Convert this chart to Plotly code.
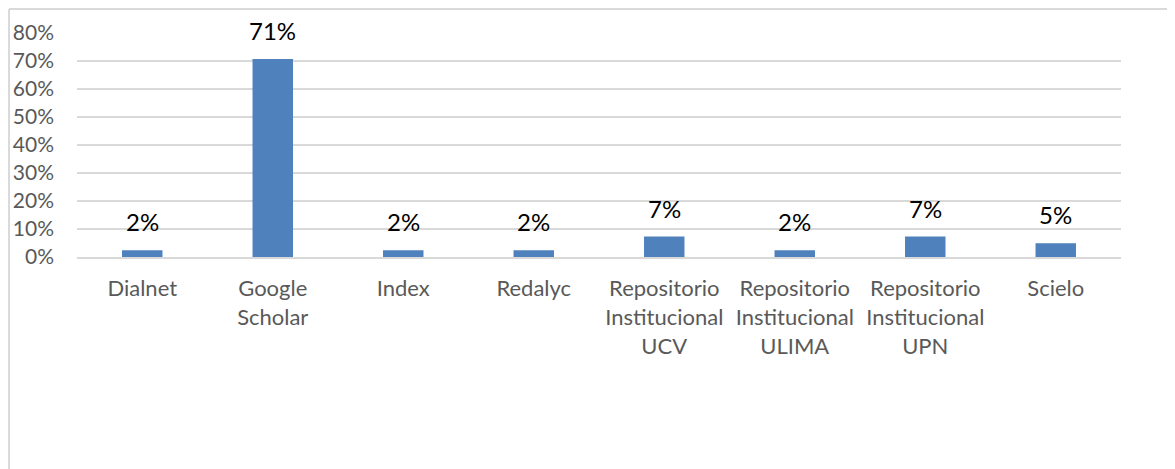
import plotly.graph_objects as go

categories = ["Dialnet", "Google<br>Scholar", "Index", "Redalyc",
              "Repositorio<br>Institucional<br>UCV", "Repositorio<br>Institucional<br>ULIMA",
              "Repositorio<br>Institucional<br>UPN", "Scielo"]
counts = [1, 29, 1, 1, 3, 1, 3, 2]
total = 41
shares = [c / total for c in counts]
labels = [f"{round(s * 100)}%" for s in shares]

font_family = "Lato, 'Open Sans', sans-serif"

fig = go.Figure()
fig.add_trace(go.Bar(x=categories, y=shares, marker_color="#4F81BD",
                     marker_line_width=0, width=0.31))

for cat, val, lab in zip(categories, shares, labels):
    fig.add_annotation(x=cat, y=val, text=lab, showarrow=False, yanchor="bottom",
                       yshift=12, font=dict(size=24, color="#000000", family=font_family))

# page body adds 8px offset, so figure is sized to fit the window
fig.update_layout(
    width=1167, height=461,
    margin=dict(l=69, r=54, t=25, b=212),
    plot_bgcolor="white", paper_bgcolor="white",
    showlegend=False,
    font=dict(family=font_family, size=22, color="#595959"),
)
fig.update_yaxes(range=[0, 0.8], dtick=0.1, tickformat=".0%", showgrid=True,
                 gridcolor="#d9d9d9", gridwidth=2, zeroline=False, automargin=False,
                 ticklabelstandoff=22, showline=False, tickfont=dict(size=21))
fig.update_xaxes(showgrid=False, showline=True, linecolor="#d9d9d9", linewidth=2,
                 ticklabelstandoff=11, tickangle=0, automargin=False)

# chart border (left and top edges visible)
fig.add_shape(type="line", xref="paper", yref="paper", x0=-0.0651, x1=1.2, y0=1.107, y1=1.107,
              line=dict(color="#d9d9d9", width=2))
fig.add_shape(type="line", xref="paper", yref="paper", x0=-0.0651, x1=-0.0651, y0=1.107, y1=-1.2,
              line=dict(color="#d9d9d9", width=2))

fig.write_html("out.html")
